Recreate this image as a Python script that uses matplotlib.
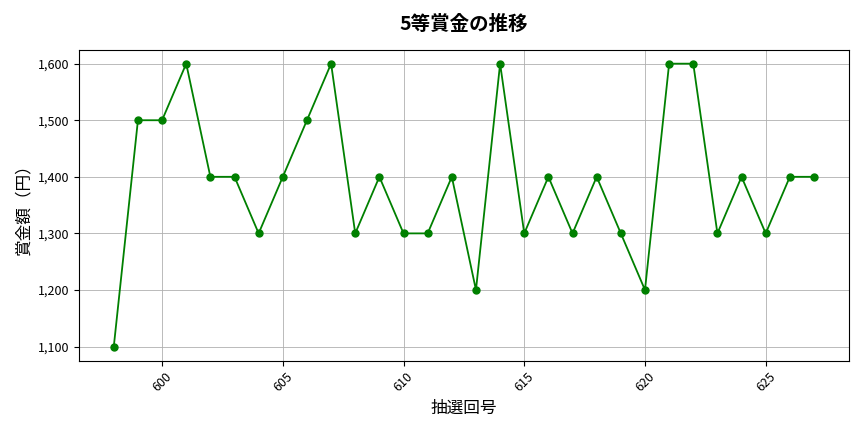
import matplotlib
matplotlib.use("Agg")
import matplotlib.pyplot as plt
from matplotlib.ticker import FuncFormatter

plt.rcParams['font.family'] = ['Noto Sans CJK JP', 'DejaVu Sans']

# データ
kaigou = list(range(598, 628))
shoukin = [1100, 1500, 1500, 1600, 1400, 1400, 1300, 1400, 1500, 1600,
           1300, 1400, 1300, 1300, 1400, 1200, 1600, 1300, 1400, 1300,
           1400, 1300, 1200, 1600, 1600, 1300, 1400, 1300, 1400, 1400]

fig, ax = plt.subplots(figsize=(8.64, 4.32), dpi=100)
ax.plot(kaigou, shoukin, color='green', marker='o', markersize=5, linewidth=1.3)

ax.set_title("5等賞金の推移", fontsize=14, fontweight='bold', pad=14)
ax.set_xlabel("抽選回号", fontsize=12)
ax.set_ylabel("賞金額（円）", fontsize=12)
ax.yaxis.set_major_formatter(FuncFormatter(lambda v, p: f"{int(v):,}"))
ax.set_xticks([600, 605, 610, 615, 620, 625])
plt.setp(ax.get_xticklabels(), rotation=45)
ax.tick_params(labelsize=9)
ax.grid(True, color='#b0b0b0', linewidth=0.6)

plt.tight_layout()
plt.savefig("out.png")
